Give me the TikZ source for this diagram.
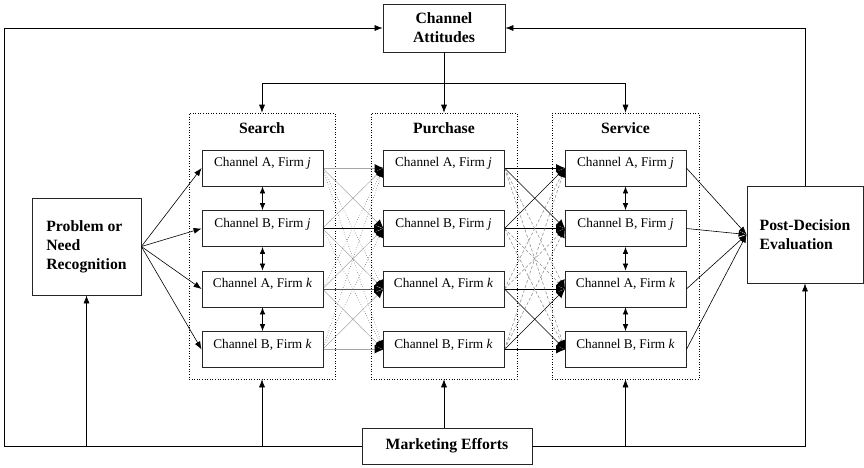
\documentclass[tikz,border=0pt]{standalone}
\usepackage{fontspec}
\setmainfont{Liberation Serif}
\usetikzlibrary{arrows.meta}
\newcommand{\fm}[1]{\textit{#1}}

\begin{document}
\begin{tikzpicture}[x=1pt, y=-1pt,
  every node/.style={font=\fontsize{13.3}{15}\selectfont},
  chan/.style={draw=black!85, line width=0.8pt, fill=white, minimum width=121pt, minimum height=36pt, inner sep=0pt, text height=6pt, text depth=9pt},
  big/.style={draw=black!85, line width=0.8pt, fill=white, align=left, inner sep=0pt, font=\fontsize{15.7}{19}\selectfont\bfseries},
  stage/.style={draw, dotted, line width=0.6pt, minimum height=266pt, inner sep=0pt},
  head/.style={font=\fontsize{15.7}{18}\selectfont\bfseries},
  edge/.style={-{Latex[length=8pt, width=6pt]}, line width=0.6pt},
  both/.style={{Latex[length=7pt, width=5.5pt]}-{Latex[length=7pt, width=5.5pt]}, line width=0.7pt},
  mesh/.style={-{Latex[length=9pt, width=8pt, line width=0pt, color=black]}, line width=0.5pt, black!35},
  meshdot/.style={mesh, dotted, black!75},
  cross/.style={mesh, black},
  crossdash/.style={mesh, densely dashed, black!45}]
  \useasboundingbox (0,0) rectangle (864,467);
  % stages
  \node[stage, minimum width=146pt] (search) at (262,246) {};
  \node[stage, minimum width=146pt] (purchase) at (444,246) {};
  \node[stage, minimum width=147pt] (service) at (625.5,246) {};
  \node[head] (shd) at (262,128.5) {Search};
  \node[head] (phd) at (444,128.5) {Purchase};
  \node[head] (vhd) at (625.5,128.5) {Service};
  % mesh between stages, drawn under the boxes
  \foreach \i/\j in {1/2,2/1,2/3,3/2,3/4,4/3,1/1,4/4}
    \draw[mesh] (262,{107.5+60.5*\i}) ++(60.5,0) coordinate (a) (444,{107.5+60.5*\j}) ++(-60.5,0) coordinate (b) (a) -- (b);
  \foreach \i/\j in {1/3,1/4,2/4,3/1,4/1,4/2}
    \draw[meshdot] (262,{107.5+60.5*\i}) ++(60.5,0) coordinate (a) (444,{107.5+60.5*\j}) ++(-60.5,0) coordinate (b) (a) -- (b);
  \foreach \i/\j in {1/1,2/2,3/3,4/4,1/2,2/1,3/4,4/3}
    \draw[cross] (444,{107.5+60.5*\i}) ++(60.5,0) coordinate (a) (625.5,{107.5+60.5*\j}) ++(-60.5,0) coordinate (b) (a) -- (b);
  \foreach \i/\j in {1/3,1/4,2/3,2/4,3/1,3/2,4/1,4/2}
    \draw[crossdash] (444,{107.5+60.5*\i}) ++(60.5,0) coordinate (a) (625.5,{107.5+60.5*\j}) ++(-60.5,0) coordinate (b) (a) -- (b);
  \draw[mesh, black] (323,228.5) coordinate (sbj) -- (383,228.5) coordinate (pbj);
  \draw[mesh, black!65] (323,289) coordinate (sak) -- (383,289) coordinate (pak);
  % channel boxes
  \node[chan] (srch1) at (262.5,168) {Channel A, Firm \fm{j}};
  \node[chan] (srch2) at (262.5,228.5) {Channel B, Firm \fm{j}};
  \node[chan] (srch3) at (262.5,289) {Channel A, Firm \fm{k}};
  \node[chan] (srch4) at (262.5,349.5) {Channel B, Firm \fm{k}};
  \node[chan] (pur1) at (443.5,168) {Channel A, Firm \fm{j}};
  \node[chan] (pur2) at (443.5,228.5) {Channel B, Firm \fm{j}};
  \node[chan] (pur3) at (443.5,289) {Channel A, Firm \fm{k}};
  \node[chan] (pur4) at (443.5,349.5) {Channel B, Firm \fm{k}};
  \node[chan] (svc1) at (625.5,168) {Channel A, Firm \fm{j}};
  \node[chan] (svc2) at (625.5,228.5) {Channel B, Firm \fm{j}};
  \node[chan] (svc3) at (625.5,289) {Channel A, Firm \fm{k}};
  \node[chan] (svc4) at (625.5,349.5) {Channel B, Firm \fm{k}};
  % outer boxes
  \node[big, align=center, minimum width=122pt, minimum height=48pt] (att) at (444,28) {Channel\\Attitudes};
  \node[big, minimum width=109pt, minimum height=97pt] (prob) at (86.5,246.5) {Problem or\\Need\\Recognition};
  \node[big, minimum width=116pt, minimum height=97pt] (post) at (805,234.5) {Post-Decision\\Evaluation};
  \node[big, minimum width=170pt, minimum height=36pt] (mkt) at (447,446) {Marketing Efforts};
  % attitudes to stages
  \coordinate (split) at (444,83);
  \draw[edge] (att.south) -- (split) -| (search.north);
  \draw[edge] (split) -| (service.north);
  \draw[edge] (split) -- (purchase.north);
  % feedback loop
  \coordinate (sw) at (4,446);
  \coordinate (nw) at (4,28);
  \draw[edge] (mkt.west) -- (sw) -- (nw) -- (att.west);
  \draw[edge] (post.north) |- (att.east);
  \draw[edge] (mkt.east) -| (post.south);
  \draw[edge] (prob.south |- mkt.west) -- (prob.south);
  \draw[edge] (search.south |- mkt.west) -- (search.south);
  \draw[edge] (purchase.south |- mkt.north) -- (purchase.south);
  \draw[edge] (service.south |- mkt.east) -- (service.south);
  % recognition into search, service into evaluation
  \draw[edge] (prob.east) -- (srch1.west);
  \draw[edge] (prob.east) -- (srch2.west);
  \draw[edge] (prob.east) -- (srch3.west);
  \draw[edge] (prob.east) -- (srch4.west);
  \draw[edge] (svc1.east) -- (post.west);
  \draw[edge] (svc2.east) -- (post.west);
  \draw[edge] (svc3.east) -- (post.west);
  \draw[edge] (svc4.east) -- (post.west);
  % switching within a stage
  \draw[both] (srch1.south) -- (srch2.north);
  \draw[both] (srch2.south) -- (srch3.north);
  \draw[both] (srch3.south) -- (srch4.north);
  \draw[both] (svc1.south) -- (svc2.north);
  \draw[both] (svc2.south) -- (svc3.north);
  \draw[both] (svc3.south) -- (svc4.north);
\end{tikzpicture}
\end{document}
